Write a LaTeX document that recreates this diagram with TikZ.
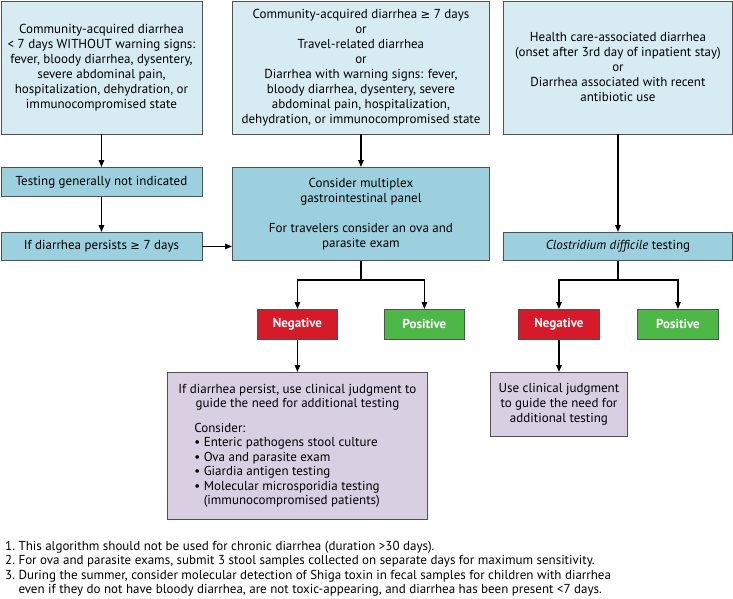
\documentclass[tikz,border=0pt]{standalone}
\usepackage{fontspec}
\setmainfont{PT Sans}
\newfontfamily\symfont{DejaVu Sans}
\usetikzlibrary{arrows.meta}
\definecolor{paleblue}{HTML}{D6EBF2}
\definecolor{midblue}{HTML}{9CD0DF}
\definecolor{negred}{HTML}{D71A2A}
\definecolor{posgreen}{HTML}{4DB848}
\definecolor{lavender}{HTML}{D9CFE3}
\definecolor{edgegray}{HTML}{505050}
\tikzset{
  box/.style={draw=edgegray, line width=0.9pt, anchor=north west, inner sep=0pt,
    align=center, font=\fontsize{13}{15}\selectfont},
  palebox/.style={box, fill=paleblue},
  midbox/.style={box, fill=midblue},
  lavbox/.style={box, fill=lavender},
  result/.style={box, text=white, font=\fontsize{13}{15}\selectfont\bfseries,
    minimum height=30},
  arrow/.style={-{Triangle[length=7pt,width=5.5pt]}, line width=1.3pt},
  link/.style={line width=1.3pt},
}
\newcommand{\geqsym}{{\symfont\fontsize{11.5}{15}\selectfont ≥}}

\begin{document}
\begin{tikzpicture}[x=1pt, y=-1pt]
    \useasboundingbox (0,0) rectangle (733,598);
    % top row
    \node[palebox, minimum width=201, minimum height=133] (community) at (0.5,0.5)
        {Community-acquired diarrhea\\ < 7 days WITHOUT warning signs:\\ fever, bloody diarrhea, dysentery,\\ severe abdominal pain,\\ hospitalization, dehydration, or\\ immunocompromised state};
    \node[palebox, minimum width=257, minimum height=133] (travel) at (232,0.5)
        {Community-acquired diarrhea \geqsym\ 7 days\\ or\\ Travel-related diarrhea\\ or\\ Diarrhea with warning signs: fever,\\ bloody diarrhea, dysentery, severe\\ abdominal pain, hospitalization,\\ dehydration, or immunocompromised state};
    \node[palebox, minimum width=229, minimum height=133] (hospital) at (503,0.5)
        {Health care-associated diarrhea\\ (onset after 3rd day of inpatient stay)\\ or\\ Diarrhea associated with recent\\ antibiotic use};
    % testing row
    \node[midbox, minimum width=201, minimum height=29] (notindicated) at (0.5,167)
        {Testing generally not indicated};
    \node[midbox, minimum width=201, minimum height=28] (persists) at (0.5,232)
        {If diarrhea persists \geqsym\ 7 days};
    \node[midbox, minimum width=257, minimum height=93] (multiplex) at (232,167)
        {Consider multiplex\\ gastrointestinal panel\\[15pt] For travelers consider an ova and\\ parasite exam};
    \node[midbox, minimum width=229, minimum height=28] (cdiff) at (503,232)
        {\textit{Clostridium difficile} testing};
    % results
    \node[result, fill=negred, minimum width=80] (neg1) at (257,309) {Negative};
    \node[result, fill=posgreen, minimum width=80] (pos1) at (384,309) {Positive};
    \node[result, fill=negred, minimum width=81] (neg2) at (518,309) {Negative};
    \node[result, fill=posgreen, minimum width=81] (pos2) at (637,309) {Positive};
    % follow-up
    \node[lavbox, minimum width=260, minimum height=147] (judge1) at (167,372)
        {\begin{minipage}{250pt}\fontsize{13}{14.5}\selectfont\centering
        If diarrhea persist, use clinical judgment to\\ guide the need for additional testing\par
        \vspace{10pt}{\raggedright\leftskip=22pt Consider:\\
        \textbullet\ Enteric pathogens stool culture\\
        \textbullet\ Ova and parasite exam\\
        \textbullet\ Giardia antigen testing\\
        \textbullet\ Molecular microsporidia testing\\
        \phantom{\textbullet\ }(immunocompromised patients)\par}
        \end{minipage}};
    \node[lavbox, minimum width=137, minimum height=64] (judge2) at (490,372)
        {Use clinical judgment\\ to guide the need for\\ additional testing};
    % notes
    \node[anchor=north west, inner sep=0pt, align=left, font=\fontsize{13}{14.5}\selectfont] (notes) at (5,541)
        {1.~This algorithm should not be used for chronic diarrhea (duration >30 days).\\
        2.~For ova and parasite exams, submit 3 stool samples collected on separate days for maximum sensitivity.\\
        3.~During the summer, consider molecular detection of Shiga toxin in fecal samples for children with diarrhea\\
        \phantom{3.~}even if they do not have bloody diarrhea, are not toxic-appearing, and diarrhea has been present <7 days.};
    % connectors
    \draw[arrow] (community) -- (notindicated);
    \draw[arrow] (notindicated) -- (persists);
    \draw[arrow] (persists.east) -- (persists.east -| multiplex.west);
    \draw[arrow] (travel) -- (multiplex);
    \draw[arrow] (hospital) -- (cdiff);
    \draw[link] (multiplex.south) -- ++(0,19) coordinate (split1);
    \draw[arrow] (split1) -| (neg1);
    \draw[arrow] (split1) -| (pos1);
    \draw[link] (cdiff.south) -- ++(0,19) coordinate (split2);
    \draw[arrow] (split2) -| (neg2);
    \draw[arrow] (split2) -| (pos2);
    \draw[arrow] (neg1) -- (judge1);
    \draw[arrow] (neg2) -- (judge2);
\end{tikzpicture}
\end{document}
